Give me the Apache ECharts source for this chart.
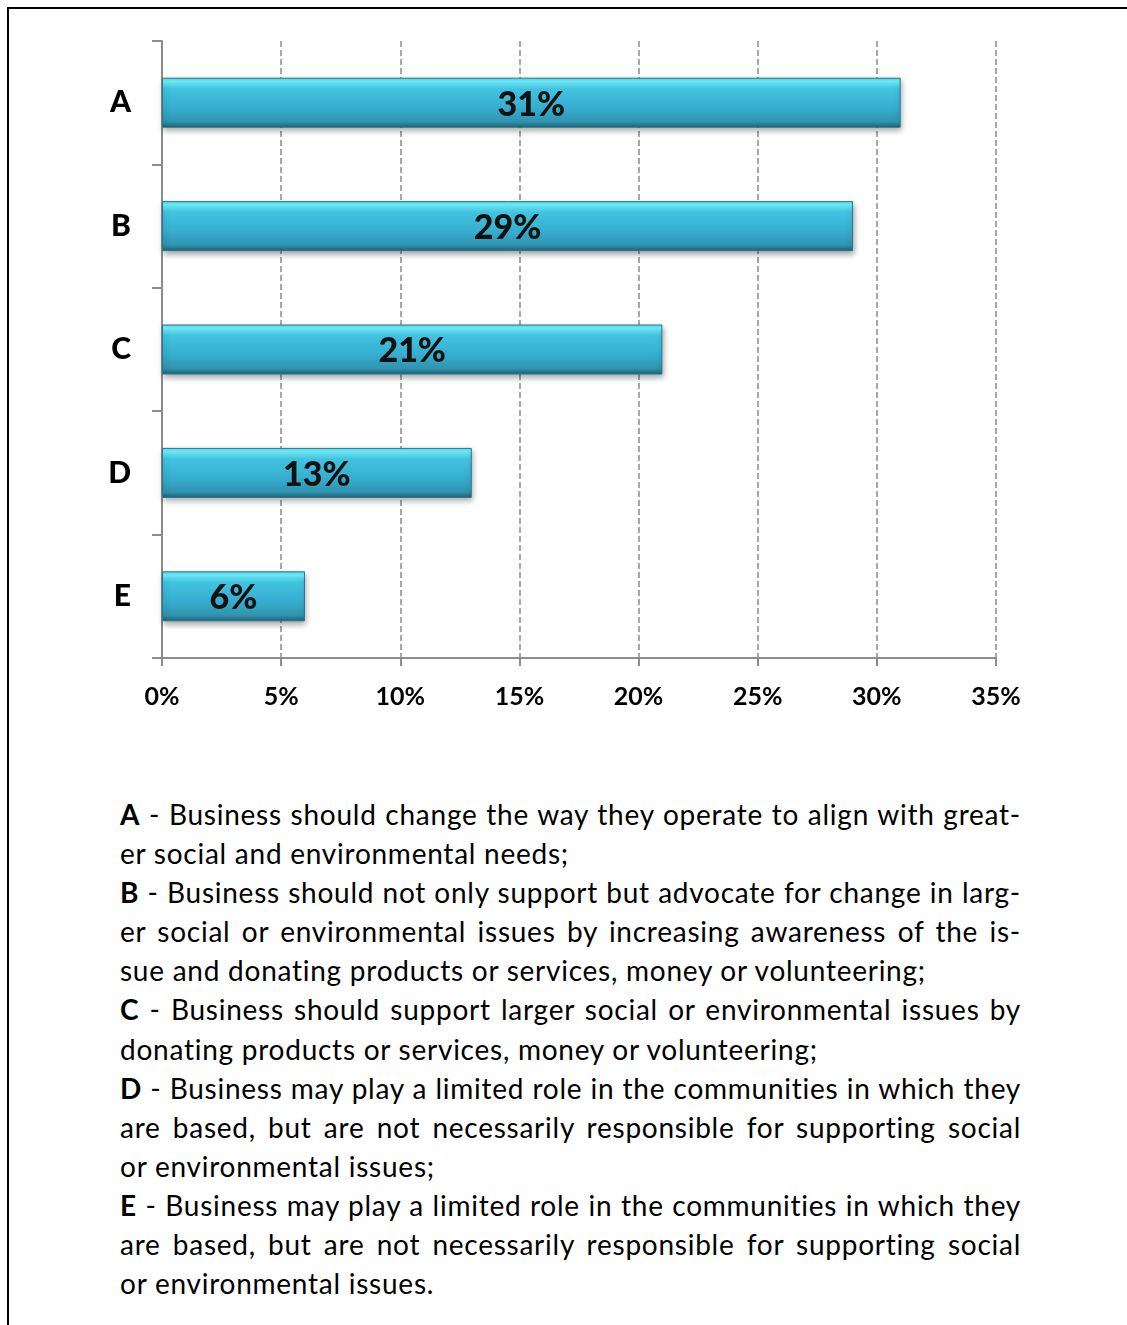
<!DOCTYPE html>
<html>
<head>
<meta charset="utf-8">
<script src="https://cdn.jsdelivr.net/npm/echarts@6/dist/echarts.min.js"></script>
<style>
  html, body { margin: 0; padding: 0; background: #fff; }
  #page { position: relative; width: 1127px; height: 1325px; overflow: hidden; background: #fff; }
  #frameTop { position: absolute; left: 7px; top: 7px; width: 1130px; height: 2px; background: #000; }
  #frameLeft { position: absolute; left: 7px; top: 7px; width: 2px; height: 1330px; background: #000; }
  #chart { position: absolute; left: 0; top: 0; width: 1127px; height: 760px; }
  #notes { position: absolute; left: 120px; top: 795px; width: 901px;
           font-family: Lato, "Open Sans", sans-serif; font-size: 28px; letter-spacing: 0.75px; color: #000; }
  #notes .ln { height: 39.1px; line-height: 39.1px; white-space: nowrap; }
  #notes .j { text-align: justify; text-align-last: justify; }
  #notes b { font-weight: bold; }
</style>
</head>
<body>
<div id="page">
  <div id="frameTop"></div>
  <div id="frameLeft"></div>
  <div id="chart"></div>
  <div id="notes"></div>
</div>
<script>
const categories = ['A', 'B', 'C', 'D', 'E'];
const values = [31, 29, 21, 13, 6];
const xTicks = [0, 5, 10, 15, 20, 25, 30, 35];

const noteLines = [
  {key: 'A', text: ' - Business should change the way they operate to align with great-', j: true},
  {text: 'er social and environmental needs;', j: false},
  {key: 'B', text: ' - Business should not only support but advocate for change in larg-', j: true},
  {text: 'er social or environmental issues by increasing awareness of the is-', j: true},
  {text: 'sue and donating products or services, money or volunteering;', j: false},
  {key: 'C', text: ' - Business should support larger social or environmental issues by', j: true},
  {text: 'donating products or services, money or volunteering;', j: false},
  {key: 'D', text: ' - Business may play a limited role in the communities in which they', j: true},
  {text: 'are based, but are not necessarily responsible for supporting social', j: true},
  {text: 'or environmental issues;', j: false},
  {key: 'E', text: ' - Business may play a limited role in the communities in which they', j: true},
  {text: 'are based, but are not necessarily responsible for supporting social', j: true},
  {text: 'or environmental issues.', j: false}
];

const notes = document.getElementById('notes');
noteLines.forEach(l => {
  const d = document.createElement('div');
  d.className = 'ln' + (l.j ? ' j' : '');
  if (l.key) {
    const b = document.createElement('b');
    b.textContent = l.key;
    d.appendChild(b);
  }
  d.appendChild(document.createTextNode(l.text));
  notes.appendChild(d);
});

const chart = echarts.init(document.getElementById('chart'));
const axisGray = '#8c8c8c';
const barGradient = new echarts.graphic.LinearGradient(0, 0, 0, 1, [
  {offset: 0, color: '#4fd6ec'},
  {offset: 0.07, color: '#72f2ff'},
  {offset: 0.22, color: '#42c3e0'},
  {offset: 0.6, color: '#37aecf'},
  {offset: 0.88, color: '#2f94b0'},
  {offset: 1, color: '#1f5f73'}
]);

chart.setOption({
  animation: false,
  grid: {left: 162, right: 131, top: 41, bottom: 102, containLabel: false},
  xAxis: {
    type: 'value',
    min: 0, max: 35, interval: 5,
    axisLine: {show: true, lineStyle: {color: axisGray, width: 2}},
    axisTick: {show: true, length: 8, lineStyle: {color: axisGray, width: 2}},
    splitLine: {show: true, lineStyle: {color: axisGray, width: 1.5, type: [6, 3]}},
    axisLabel: {
      margin: 26,
      formatter: v => v + '%',
      fontFamily: 'Lato, "Open Sans", sans-serif',
      fontWeight: 'bold', fontSize: 25, color: '#000'
    }
  },
  yAxis: {
    type: 'category',
    data: categories,
    inverse: true,
    axisLine: {show: true, lineStyle: {color: axisGray, width: 2}},
    axisTick: {show: true, length: 10, lineStyle: {color: axisGray, width: 2}},
    splitLine: {show: false},
    axisLabel: {
      margin: 31,
      fontFamily: 'Lato, "Open Sans", sans-serif',
      fontWeight: 900, fontSize: 30, color: '#000'
    }
  },
  series: [{
    type: 'bar',
    data: values,
    barWidth: 50,
    itemStyle: {
      color: barGradient,
      borderColor: '#28778d',
      borderWidth: 1,
      shadowColor: 'rgba(0,0,0,0.35)',
      shadowBlur: 6,
      shadowOffsetY: 3,
      shadowOffsetX: 1
    },
    label: {
      show: true,
      position: 'inside',
      offset: [0, 2],
      formatter: p => p.value + '%',
      fontFamily: 'Lato, "Open Sans", sans-serif',
      fontWeight: 900, fontSize: 34, color: '#111'
    }
  }]
});
</script>
</body>
</html>
